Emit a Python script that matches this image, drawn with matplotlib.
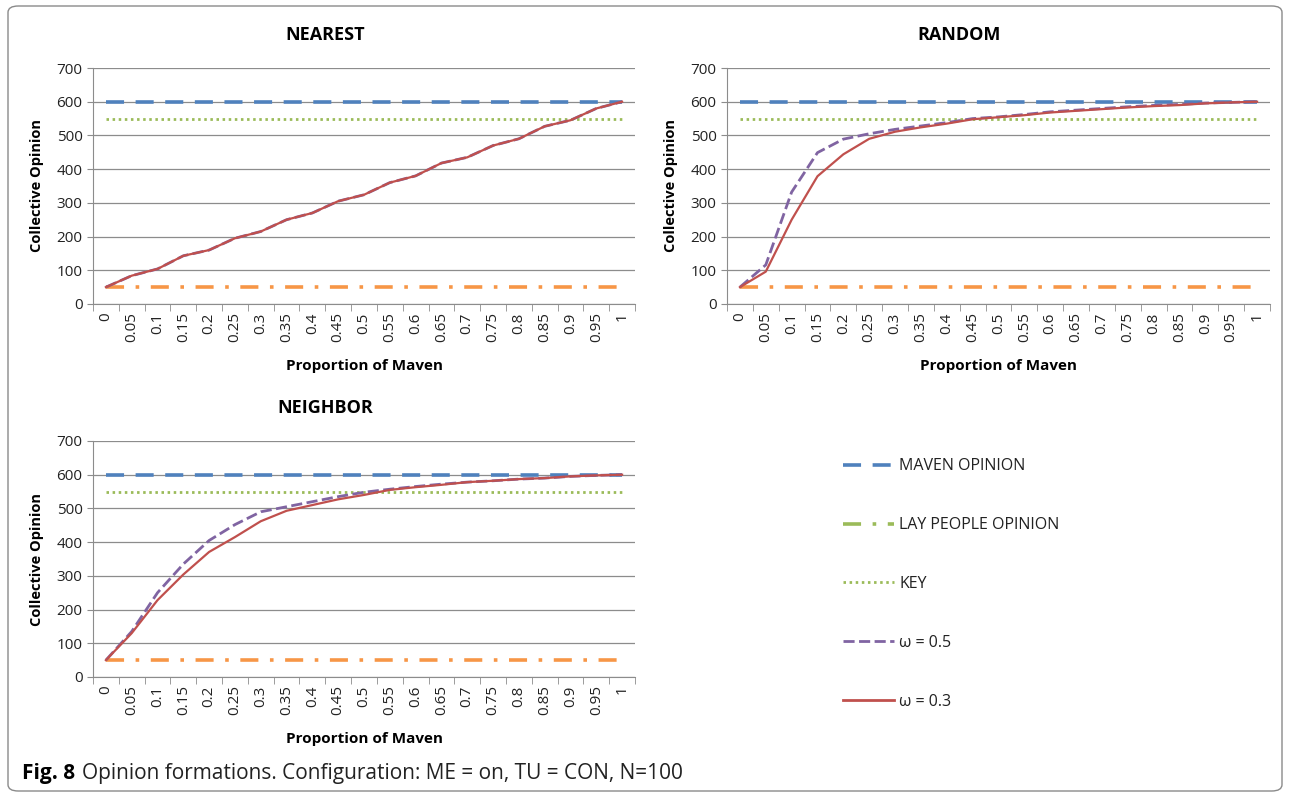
import matplotlib
matplotlib.use("Agg")
import matplotlib.pyplot as plt
from matplotlib.lines import Line2D
from matplotlib.patches import FancyBboxPatch

plt.rcParams["font.family"] = ["Open Sans", "DejaVu Sans"]

# ========================================================
# Data
# ========================================================
proportions = ["0", "0.05", "0.1", "0.15", "0.2", "0.25", "0.3", "0.35", "0.4", "0.45", "0.5",
               "0.55", "0.6", "0.65", "0.7", "0.75", "0.8", "0.85", "0.9", "0.95", "1"]

maven_opinion = 600
lay_opinion = 50
key_opinion = 550

nearest_w05 = [50, 84, 104, 143, 160, 195, 215, 250, 270, 305, 324,
               360, 380, 418, 435, 470, 490, 527, 545, 580, 600]
nearest_w03 = [50, 84, 104, 143, 160, 195, 215, 250, 270, 305, 324,
               360, 380, 418, 435, 470, 490, 527, 545, 580, 600]

random_w05 = [50, 116, 332, 449, 489, 505, 518, 528, 538, 550, 555,
              562, 570, 575, 580, 585, 589, 592, 596, 598, 600]
random_w03 = [50, 96, 250, 379, 444, 490, 511, 524, 535, 548, 554,
              560, 568, 573, 578, 583, 587, 590, 595, 598, 600]

neighbor_w05 = [50, 135, 250, 335, 405, 452, 490, 505, 520, 535, 548,
                557, 565, 572, 578, 582, 587, 590, 595, 598, 600]
neighbor_w03 = [50, 130, 228, 304, 371, 415, 462, 493, 510, 527, 540,
                555, 563, 570, 578, 582, 587, 590, 595, 598, 600]

C_MAVEN = "#4F81BD"
C_LAY = "#F79646"
C_KEY = "#9BBB59"
C_W05 = "#8064A2"
C_W03 = "#C0504D"

W, H = 1290, 797
fig = plt.figure(figsize=(W / 100, H / 100), dpi=100)

# rounded frame around the whole figure
fig.patches.append(FancyBboxPatch((8 / W, 6 / H), 1274 / W, 785 / H,
                                  boxstyle="round,pad=0,rounding_size=0.008",
                                  transform=fig.transFigure, fill=False,
                                  edgecolor="#8a8a8a", linewidth=1.0))


def pix_axes(left, top, right, bottom):
    return fig.add_axes([left / W, 1 - bottom / H, (right - left) / W, (bottom - top) / H])


def draw_panel(ax, title, w05, w03):
    x = list(range(len(proportions)))
    n = len(x)
    ax.plot(x, [maven_opinion] * n, color=C_MAVEN, lw=2.6, dashes=(5, 3.2), zorder=3)
    ax.plot(x, [key_opinion] * n, color=C_KEY, lw=2.0, dashes=(0.9, 1.3), zorder=3)
    ax.plot(x, [lay_opinion] * n, color=C_LAY, lw=2.6, dashes=(5, 3.2, 1, 3.2), zorder=3)
    ax.plot(x, w05, color=C_W05, lw=2.0, dashes=(4, 1.6), zorder=4)
    ax.plot(x, w03, color=C_W03, lw=1.6, zorder=5)

    ax.set_xlim(-0.5, n - 0.5)
    ax.set_ylim(0, 700)
    ax.set_yticks(range(0, 701, 100))
    ax.yaxis.grid(True, color="#8c8c8c", lw=0.9)
    ax.set_axisbelow(True)
    for s in ["top", "right"]:
        ax.spines[s].set_visible(False)
    for s in ["left", "bottom"]:
        ax.spines[s].set_color("#8c8c8c")
    ax.set_xticks(x)
    ax.set_xticklabels(proportions, rotation=90)
    ax.set_xticks([i - 0.5 for i in range(n + 1)], minor=True)
    ax.tick_params(axis="x", which="major", length=0, labelsize=11, pad=6, colors="#222222")
    ax.tick_params(axis="x", which="minor", length=5, color="#8c8c8c")
    ax.tick_params(axis="y", length=4, color="#8c8c8c", labelsize=11, colors="#222222")
    ax.set_title(title, fontsize=13, fontweight="bold", pad=20, x=0.428)
    ax.set_ylabel("Collective Opinion", fontsize=10.5, fontweight="bold")
    ax.yaxis.set_label_coords(-0.09, 0.5)
    ax.set_xlabel("Proportion of Maven", fontsize=11, fontweight="bold", labelpad=12)


ax1 = pix_axes(93, 68, 635, 304)
draw_panel(ax1, "NEAREST", nearest_w05, nearest_w03)
ax2 = pix_axes(727, 68, 1270, 304)
draw_panel(ax2, "RANDOM", random_w05, random_w03)
ax3 = pix_axes(93, 441, 635, 677)
draw_panel(ax3, "NEIGHBOR", neighbor_w05, neighbor_w03)

# legend (drawn as in the original, lay people entry in green)
handles = [
    Line2D([], [], color=C_MAVEN, lw=2.6, dashes=(5, 3.2)),
    Line2D([], [], color=C_KEY, lw=2.6, dashes=(5, 3.2, 1, 3.2)),
    Line2D([], [], color=C_KEY, lw=2.0, dashes=(0.9, 1.3)),
    Line2D([], [], color=C_W05, lw=2.0, dashes=(4, 1.6)),
    Line2D([], [], color=C_W03, lw=2.0),
]
labels = ["MAVEN OPINION", "LAY PEOPLE OPINION", "KEY", "ω = 0.5", "ω = 0.3"]
fig.legend(handles, labels, loc="upper left", bbox_to_anchor=(829 / W, 1 - 444 / H),
           frameon=False, fontsize=11.5, handlelength=3.2, handletextpad=0.3,
           labelspacing=2.68, labelcolor="#222222")

fig.text(22 / W, 1 - 773 / H, "Fig. 8", fontsize=15, fontweight="bold", va="center")
fig.text(82 / W, 1 - 773 / H, "Opinion formations. Configuration: ME = on, TU = CON, N=100",
         fontsize=15, va="center", color="#222222")

fig.savefig("out.png", dpi=100)
